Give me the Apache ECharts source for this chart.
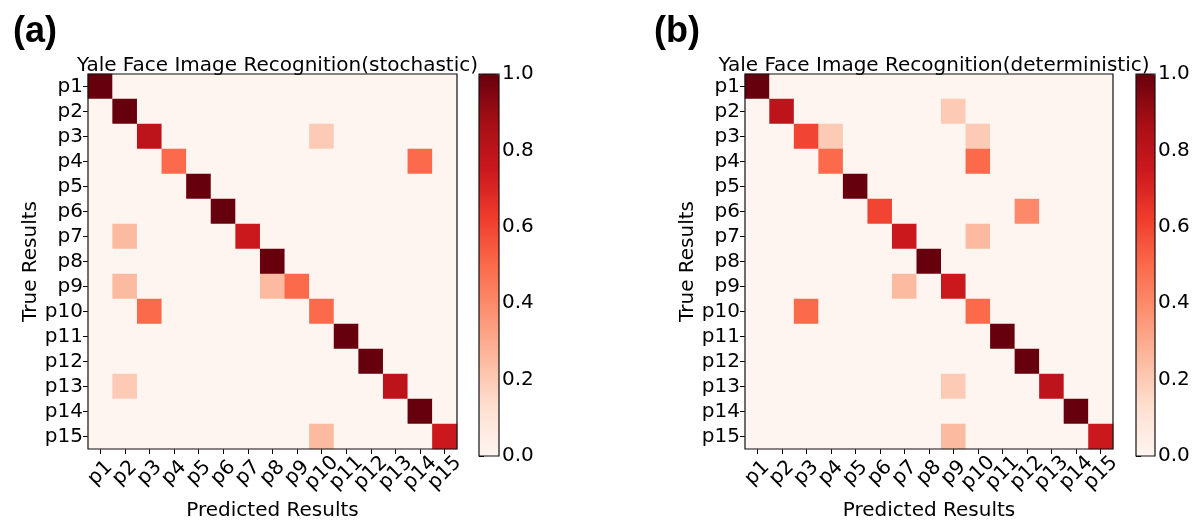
<!DOCTYPE html>
<html>
<head>
<meta charset="utf-8">
<script src="https://cdn.jsdelivr.net/npm/echarts@6/dist/echarts.min.js"></script>
<style>
html,body{margin:0;padding:0;background:#fff;}
#chart{width:1204px;height:526px;}
</style>
</head>
<body>
<div id="chart"></div>
<script>
const people = ['p1','p2','p3','p4','p5','p6','p7','p8','p9','p10','p11','p12','p13','p14','p15'];
const colorbarTicks = [0, 0.2, 0.4, 0.6, 0.8, 1.0];
const titleA = 'Yale Face Image Recognition(stochastic)';
const titleB = 'Yale Face Image Recognition(deterministic)';
const xName = 'Predicted Results';
const yName = 'True Results';
const redsColors = ['#fff5f0','#fee0d2','#fcbba1','#fc9272','#fb6a4a','#ef3b2c','#cb181d','#a50f15','#67000d'];

// rows = true person, columns = predicted person
const stochastic = [
  [1,0,0,0,0,0,0,0,0,0,0,0,0,0,0],
  [0,1,0,0,0,0,0,0,0,0,0,0,0,0,0],
  [0,0,0.8,0,0,0,0,0,0,0.2,0,0,0,0,0],
  [0,0,0,0.5,0,0,0,0,0,0,0,0,0,0.5,0],
  [0,0,0,0,1,0,0,0,0,0,0,0,0,0,0],
  [0,0,0,0,0,1,0,0,0,0,0,0,0,0,0],
  [0,0.25,0,0,0,0,0.75,0,0,0,0,0,0,0,0],
  [0,0,0,0,0,0,0,1,0,0,0,0,0,0,0],
  [0,0.25,0,0,0,0,0,0.25,0.5,0,0,0,0,0,0],
  [0,0,0.5,0,0,0,0,0,0,0.5,0,0,0,0,0],
  [0,0,0,0,0,0,0,0,0,0,1,0,0,0,0],
  [0,0,0,0,0,0,0,0,0,0,0,1,0,0,0],
  [0,0.2,0,0,0,0,0,0,0,0,0,0,0.8,0,0],
  [0,0,0,0,0,0,0,0,0,0,0,0,0,1,0],
  [0,0,0,0,0,0,0,0,0,0.25,0,0,0,0,0.75]
];
const deterministic = [
  [1,0,0,0,0,0,0,0,0,0,0,0,0,0,0],
  [0,0.8,0,0,0,0,0,0,0.2,0,0,0,0,0,0],
  [0,0,0.6,0.2,0,0,0,0,0,0.2,0,0,0,0,0],
  [0,0,0,0.5,0,0,0,0,0,0.5,0,0,0,0,0],
  [0,0,0,0,1,0,0,0,0,0,0,0,0,0,0],
  [0,0,0,0,0,0.6,0,0,0,0,0,0.4,0,0,0],
  [0,0,0,0,0,0,0.75,0,0,0.25,0,0,0,0,0],
  [0,0,0,0,0,0,0,1,0,0,0,0,0,0,0],
  [0,0,0,0,0,0,0.25,0,0.75,0,0,0,0,0,0],
  [0,0,0.5,0,0,0,0,0,0,0.5,0,0,0,0,0],
  [0,0,0,0,0,0,0,0,0,0,1,0,0,0,0],
  [0,0,0,0,0,0,0,0,0,0,0,1,0,0,0],
  [0,0,0,0,0,0,0,0,0.2,0,0,0,0.8,0,0],
  [0,0,0,0,0,0,0,0,0,0,0,0,0,1,0],
  [0,0,0,0,0,0,0,0,0.25,0,0,0,0,0,0.75]
];

function toCells(matrix){
  const out = [];
  matrix.forEach((row, r) => row.forEach((v, c) => out.push([c, r, v])));
  return out;
}

const FONT = 'DejaVu Sans';
const layout = [
  {grid:{left:88, top:74, width:369, height:382}, cbar:{left:479, top:74, width:20, height:382}, title:titleA, panel:'(a)', panelLeft:8},
  {grid:{left:745, top:74, width:368, height:382}, cbar:{left:1136, top:74, width:19, height:382}, title:titleB, panel:'(b)', panelLeft:649}
];
const matrices = [stochastic, deterministic];

const option = {
  animation:false,
  backgroundColor:'#fff',
  title:[], grid:[], xAxis:[], yAxis:[], series:[], visualMap:[]
};

layout.forEach((L, i) => {
  option.title.push({text:L.panel, left:L.panelLeft, top:9, textStyle:{fontFamily:'Liberation Sans', fontWeight:'bold', fontSize:36, color:'#000'}});
  option.title.push({text:L.title, left:L.grid.left + L.grid.width/2, top:51, textAlign:'center', textStyle:{fontFamily:FONT, fontWeight:'normal', fontSize:20, color:'#000'}});
  option.grid.push(Object.assign({show:true, borderColor:'#111', borderWidth:1.2, backgroundColor:'transparent', z:10}, L.grid));
  option.grid.push(Object.assign({show:true, borderColor:'#111', borderWidth:1.2, backgroundColor:'transparent', z:10}, L.cbar));
  const g = i*2, gc = i*2+1;
  option.xAxis.push({
    gridIndex:g, type:'category', data:people, position:'bottom',
    name:xName, nameLocation:'middle', nameGap:52,
    nameTextStyle:{fontFamily:FONT, fontSize:20, color:'#000'},
    axisLine:{show:false}, splitLine:{show:false},
    axisTick:{show:true, alignWithLabel:true, length:5, lineStyle:{color:'#000'}},
    axisLabel:{interval:0, rotate:45, align:'center', verticalAlign:'middle', margin:24, fontFamily:FONT, fontSize:20, color:'#000'}
  });
  option.yAxis.push({
    gridIndex:g, type:'category', data:people, inverse:true,
    name:yName, nameLocation:'middle', nameGap:43,
    nameTextStyle:{fontFamily:FONT, fontSize:20, color:'#000'},
    axisLine:{show:false}, splitLine:{show:false},
    axisTick:{show:true, alignWithLabel:true, length:5, lineStyle:{color:'#000'}},
    axisLabel:{interval:0, margin:5, fontFamily:FONT, fontSize:20, color:'#000'}
  });
  option.xAxis.push({gridIndex:gc, type:'value', show:false, min:0, max:1});
  option.yAxis.push({
    gridIndex:gc, type:'value', position:'right', min:0, max:1, interval:0.2,
    axisLine:{show:false}, splitLine:{show:false},
    axisTick:{show:true, length:5, lineStyle:{color:'#000'}},
    axisLabel:{margin:3, fontFamily:FONT, fontSize:20, color:'#000', formatter:v => v.toFixed(1)}
  });
  option.series.push({
    type:'heatmap', xAxisIndex:g, yAxisIndex:g, data:toCells(matrices[i]),
    itemStyle:{borderWidth:0}, emphasis:{disabled:true}
  });
  option.visualMap.push({
    type:'continuous', seriesIndex:i, min:0, max:1, calculable:false, show:true,
    orient:'vertical', left:L.cbar.left, top:L.cbar.top, padding:0,
    itemWidth:L.cbar.width, itemHeight:L.cbar.height,
    inRange:{color:redsColors}, hoverLink:false
  });
});

const chart = echarts.init(document.getElementById('chart'), null, {renderer:'canvas'});
chart.setOption(option);
</script>
</body>
</html>
